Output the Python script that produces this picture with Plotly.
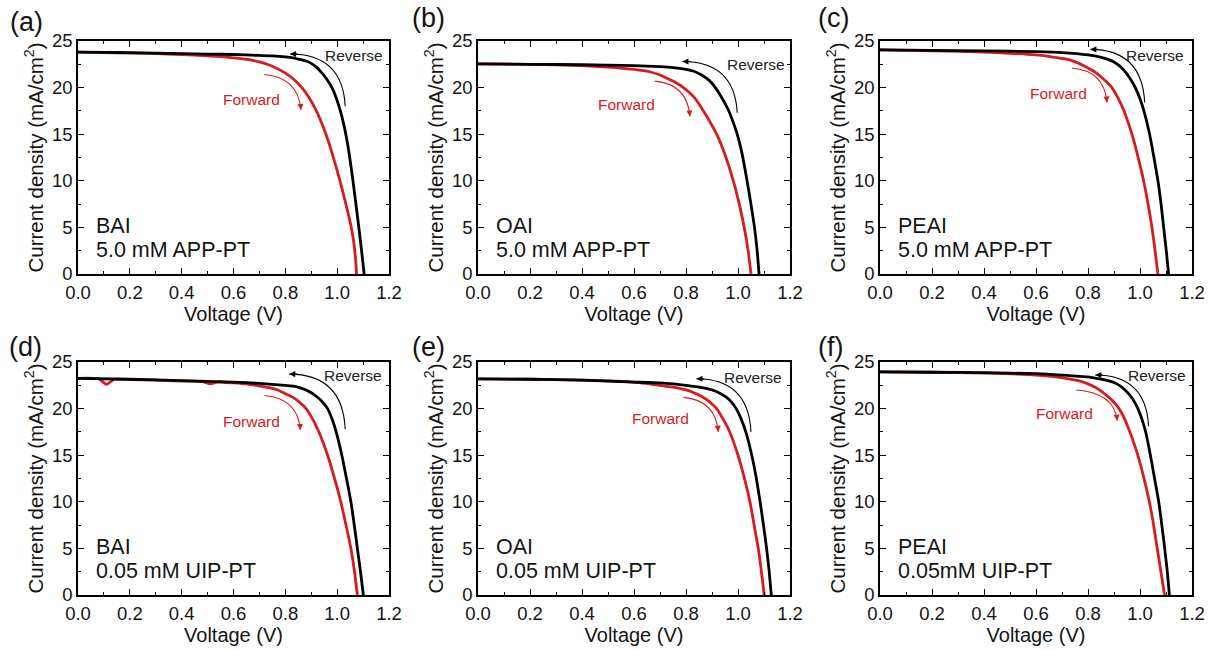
import plotly.graph_objects as go

# ---------------- data ----------------
panel_tags = ["(a)", "(b)", "(c)", "(d)", "(e)", "(f)"]
additives = ["BAI", "OAI", "PEAI", "BAI", "OAI", "PEAI"]
treatments = ["5.0 mM APP-PT", "5.0 mM APP-PT", "5.0 mM APP-PT",
              "0.05 mM UIP-PT", "0.05 mM UIP-PT", "0.05mM UIP-PT"]

# (a) BAI, 5.0 mM APP-PT
a_rev_v = [0, 0.1, 0.2, 0.3, 0.4, 0.5, 0.6, 0.7, 0.75, 0.8, 0.83, 0.86, 0.88, 0.9, 0.92, 0.94, 0.96, 0.98, 1.0, 1.02, 1.04, 1.06, 1.08, 1.095, 1.104]
a_rev_j = [23.8, 23.78, 23.75, 23.7, 23.65, 23.6, 23.55, 23.45, 23.4, 23.3, 23.2, 23.0, 22.85, 22.6, 22.2, 21.6, 20.9, 20.0, 18.6, 16.7, 14.0, 10.2, 5.8, 2.3, 0]
a_fwd_v = [0, 0.1, 0.2, 0.3, 0.4, 0.5, 0.6, 0.66, 0.7, 0.73, 0.76, 0.8, 0.83, 0.867, 0.89, 0.918, 0.954, 0.98, 1.008, 1.03, 1.053, 1.064, 1.071, 1.075]
a_fwd_j = [23.8, 23.75, 23.7, 23.65, 23.55, 23.4, 23.2, 23.0, 22.75, 22.5, 22.15, 21.55, 20.95, 19.9, 19.0, 17.6, 15.2, 13.0, 10.3, 7.9, 5.2, 3.4, 1.6, 0]

# (b) OAI, 5.0 mM APP-PT
b_rev_v = [0, 0.2, 0.4, 0.6, 0.7, 0.75, 0.8, 0.83, 0.86, 0.89, 0.913, 0.94, 0.963, 0.98, 0.997, 1.015, 1.033, 1.048, 1.062, 1.073, 1.081]
b_rev_j = [22.55, 22.5, 22.45, 22.35, 22.25, 22.15, 21.95, 21.75, 21.35, 20.75, 20.0, 18.8, 17.6, 16.4, 15.0, 13.0, 10.3, 7.8, 5.3, 2.7, 0]
b_fwd_v = [0, 0.2, 0.4, 0.5, 0.6, 0.66, 0.7, 0.726, 0.76, 0.79, 0.83, 0.867, 0.918, 0.95, 0.982, 1.004, 1.024, 1.038, 1.05]
b_fwd_j = [22.55, 22.5, 22.35, 22.2, 21.95, 21.7, 21.35, 21.0, 20.55, 20.0, 19.0, 17.5, 15.0, 12.8, 10.0, 7.6, 5.0, 2.7, 0]

# (c) PEAI, 5.0 mM APP-PT
c_rev_v = [0, 0.2, 0.4, 0.6, 0.7, 0.8, 0.85, 0.88, 0.9, 0.92, 0.937, 0.96, 0.982, 1.0, 1.014, 1.037, 1.053, 1.069, 1.081, 1.091, 1.101, 1.11]
c_rev_j = [24.05, 24.0, 23.95, 23.85, 23.75, 23.5, 23.25, 23.0, 22.75, 22.35, 21.9, 21.05, 20.0, 18.8, 17.6, 15.0, 12.6, 10.0, 7.5, 5.0, 2.5, 0]
c_fwd_v = [0, 0.2, 0.4, 0.5, 0.6, 0.66, 0.7, 0.726, 0.765, 0.8, 0.83, 0.854, 0.892, 0.915, 0.937, 0.969, 0.992, 1.014, 1.031, 1.046, 1.058, 1.069]
c_fwd_j = [24.05, 23.95, 23.8, 23.68, 23.5, 23.3, 23.12, 23.0, 22.6, 22.1, 21.6, 21.05, 20.0, 18.9, 17.6, 15.0, 12.6, 10.0, 7.5, 5.0, 2.5, 0]

# (d) BAI, 0.05 mM UIP-PT
d_rev_v = [0, 0.2, 0.4, 0.6, 0.7, 0.8, 0.83, 0.854, 0.88, 0.9, 0.92, 0.937, 0.963, 0.98, 0.995, 1.018, 1.036, 1.053, 1.066, 1.078, 1.09, 1.101]
d_rev_j = [23.25, 23.15, 23.0, 22.85, 22.7, 22.5, 22.4, 22.25, 22.0, 21.7, 21.3, 20.9, 20.0, 18.9, 17.6, 15.0, 12.5, 10.0, 7.5, 5.0, 2.5, 0]
d_fwd_v = [0, 0.08, 0.11, 0.14, 0.2, 0.3, 0.4, 0.48, 0.51, 0.54, 0.6, 0.66, 0.726, 0.77, 0.8, 0.83, 0.854, 0.88, 0.905, 0.928, 0.963, 0.99, 1.014, 1.034, 1.053, 1.067, 1.078]
d_fwd_j = [23.25, 23.2, 22.6, 23.15, 23.1, 23.05, 22.95, 22.9, 22.65, 22.85, 22.75, 22.6, 22.3, 22.0, 21.6, 21.2, 20.7, 20.0, 18.9, 17.6, 15.0, 12.5, 10.0, 7.5, 5.0, 2.5, 0]

# (e) OAI, 0.05 mM UIP-PT
e_rev_v = [0, 0.2, 0.4, 0.6, 0.7, 0.8, 0.85, 0.9, 0.93, 0.956, 0.975, 0.993, 1.012, 1.03, 1.053, 1.07, 1.085, 1.098, 1.11, 1.12, 1.128]
e_rev_j = [23.2, 23.15, 23.05, 22.85, 22.75, 22.5, 22.3, 22.0, 21.65, 21.2, 20.7, 20.0, 18.9, 17.5, 15.0, 12.6, 10.0, 7.5, 5.0, 2.5, 0]
e_fwd_v = [0, 0.2, 0.4, 0.6, 0.7, 0.75, 0.8, 0.83, 0.854, 0.88, 0.9, 0.918, 0.94, 0.965, 1.0, 1.024, 1.046, 1.062, 1.078, 1.09, 1.101]
e_fwd_j = [23.2, 23.15, 23.05, 22.85, 22.5, 22.3, 22.0, 21.7, 21.4, 20.95, 20.5, 20.0, 19.0, 17.7, 15.0, 12.6, 10.0, 7.5, 5.0, 2.5, 0]

# (f) PEAI, 0.05 mM UIP-PT
f_rev_v = [0, 0.2, 0.4, 0.6, 0.7, 0.8, 0.85, 0.9, 0.93, 0.956, 0.975, 0.992, 1.007, 1.021, 1.04, 1.056, 1.072, 1.084, 1.095, 1.105, 1.113]
f_rev_j = [23.95, 23.9, 23.85, 23.75, 23.6, 23.4, 23.15, 22.8, 22.3, 21.6, 20.9, 20.0, 18.9, 17.6, 15.0, 12.5, 10.0, 7.5, 5.0, 2.5, 0]
f_fwd_v = [0, 0.2, 0.4, 0.6, 0.66, 0.726, 0.77, 0.8, 0.83, 0.854, 0.885, 0.912, 0.93, 0.95, 0.985, 1.01, 1.033, 1.05, 1.065, 1.08, 1.094]
f_fwd_j = [23.95, 23.9, 23.8, 23.6, 23.45, 23.2, 22.95, 22.65, 22.25, 21.8, 21.1, 20.3, 19.5, 18.3, 15.6, 13.1, 10.4, 7.9, 5.2, 2.6, 0]

reverse_v = [a_rev_v, b_rev_v, c_rev_v, d_rev_v, e_rev_v, f_rev_v]
reverse_j = [a_rev_j, b_rev_j, c_rev_j, d_rev_j, e_rev_j, f_rev_j]
forward_v = [a_fwd_v, b_fwd_v, c_fwd_v, d_fwd_v, e_fwd_v, f_fwd_v]
forward_j = [a_fwd_j, b_fwd_j, c_fwd_j, d_fwd_j, e_fwd_j, f_fwd_j]

# annotation anchor points (data coords): label centre, arrow start, arrow end
rev_text = [(1.065, 23.45), (1.07, 22.5), (1.058, 23.4), (1.06, 23.5), (1.058, 23.3), (1.065, 23.6)]
fwd_text = [(0.668, 18.7), (0.571, 18.2), (0.685, 19.4), (0.67, 18.6), (0.70, 18.9), (0.71, 19.5)]
rev_arrow = [(1.031, 18.0, 0.818, 23.6), (0.997, 17.3, 0.786, 22.8), (1.018, 18.4, 0.809, 24.1),
             (1.031, 17.8, 0.815, 23.7), (1.05, 17.5, 0.84, 23.2), (1.033, 18.1, 0.828, 23.6)]
fwd_arrow = [(0.719, 21.4, 0.86, 17.6), (0.68, 20.7, 0.815, 16.9), (0.738, 22.1, 0.873, 18.4),
             (0.72, 21.4, 0.858, 17.7), (0.79, 21.2, 0.924, 17.5), (0.755, 22.0, 0.912, 18.7)]

# ---------------- layout geometry ----------------
W, H = 1215, 651
col_px = [(78, 389), (478, 790), (880, 1192)]
row_px = [(41, 274), (362, 595)]
tag_px = [(26, 22), (428, 18), (833, 18), (25, 347), (428, 347), (831, 347)]

RED = "rgb(214,28,30)"
FONT = "Liberation Sans, Arial, sans-serif"
INK = "#141414"

fig = go.Figure()
layout = dict(width=W, height=H, margin=dict(l=0, r=0, t=0, b=0, autoexpand=False),
              paper_bgcolor="white", plot_bgcolor="white", showlegend=False,
              font=dict(family=FONT, color=INK))
annotations = []
shapes = []

for i in range(6):
    r, c = divmod(i, 3)
    n = i + 1
    xs = "" if n == 1 else str(n)
    xa, ya = "x" + xs, "y" + xs
    x0, x1 = col_px[c]
    y0, y1 = row_px[r]
    common = dict(ticks="inside", ticklen=6, tickwidth=1.3, tickcolor="black",
                  showline=True, linecolor="black", linewidth=1.6, mirror="allticks",
                  showgrid=False, zeroline=False, automargin=False,
                  tickfont=dict(family=FONT, size=18.5, color=INK))
    layout["xaxis" + xs] = dict(common, domain=[x0 / W, x1 / W], anchor=ya,
                                range=[0, 1.2], dtick=0.2, tick0=0, tickformat=".1f",
                                ticklabelstandoff=1,
                                minor=dict(ticks="inside", dtick=0.1, ticklen=3.5, tickwidth=1.1, tickcolor="black"),
                                title=dict(text="Voltage (V)", font=dict(family=FONT, size=20, color=INK), standoff=2))
    layout["yaxis" + xs] = dict(common, domain=[1 - y1 / H, 1 - y0 / H], anchor=xa,
                                range=[0, 25], dtick=5, tick0=0,
                                minor=dict(ticks="inside", dtick=2.5, ticklen=3.5, tickwidth=1.1, tickcolor="black"),
                                title=dict(text="Current density (mA/cm<sup>2</sup>)",
                                           font=dict(family=FONT, size=20.5, color=INK), standoff=3))

    fig.add_trace(go.Scatter(x=forward_v[i], y=forward_j[i], mode="lines",
                             line=dict(color=RED, width=2.8, shape="spline", smoothing=0.5),
                             xaxis=xa, yaxis=ya, cliponaxis=True))
    fig.add_trace(go.Scatter(x=reverse_v[i], y=reverse_j[i], mode="lines",
                             line=dict(color="black", width=2.8, shape="spline", smoothing=0.5),
                             xaxis=xa, yaxis=ya, cliponaxis=True))

    # panel tag
    tx, ty = tag_px[i]
    annotations.append(dict(text=panel_tags[i], xref="paper", yref="paper", x=tx / W, y=1 - ty / H,
                            xanchor="center", yanchor="middle", showarrow=False,
                            font=dict(family=FONT, size=27, color=INK)))
    # sample labels
    annotations.append(dict(text=additives[i], xref=xa + " domain", yref=ya, x=0.05, y=5.1,
                            xanchor="left", yanchor="middle", showarrow=False,
                            font=dict(family=FONT, size=21.5, color=INK)))
    annotations.append(dict(text=treatments[i], xref=xa + " domain", yref=ya, x=0.05, y=2.55,
                            xanchor="left", yanchor="middle", showarrow=False,
                            font=dict(family=FONT, size=21.5, color=INK)))
    # sweep labels
    annotations.append(dict(text="Reverse", xref=xa, yref=ya, x=rev_text[i][0], y=rev_text[i][1],
                            xanchor="center", yanchor="middle", showarrow=False,
                            font=dict(family=FONT, size=15.5, color="#222")))
    annotations.append(dict(text="Forward", xref=xa, yref=ya, x=fwd_text[i][0], y=fwd_text[i][1],
                            xanchor="center", yanchor="middle", showarrow=False,
                            font=dict(family=FONT, size=15.5, color=RED)))
    # curved sweep arrows
    for (sx, sy, ex, ey), col, kind in [(rev_arrow[i], "black", "rev"), (fwd_arrow[i], RED, "fwd")]:
        if kind == "rev":
            cx, cy = sx - 0.01, ey
        else:
            cx, cy = ex - 0.01, sy - 0.3
        shapes.append(dict(type="path", xref=xa, yref=ya,
                           path=f"M {sx},{sy} Q {cx},{cy} {ex},{ey}",
                           line=dict(color=col, width=1.1)))
        tx_, ty_ = ex + 0.18 * (cx - ex), ey + 0.18 * (cy - ey)
        annotations.append(dict(text="", xref=xa, yref=ya, axref=xa, ayref=ya,
                                x=ex, y=ey, ax=tx_, ay=ty_, showarrow=True,
                                arrowhead=2, arrowsize=1.1, arrowwidth=1.1, arrowcolor=col, standoff=0))

layout["annotations"] = annotations
layout["shapes"] = shapes
fig.update_layout(**layout)
fig.write_html("out.html", config={"displayModeBar": False},
               post_script="document.body.style.margin='0px';document.body.style.padding='0px';")
